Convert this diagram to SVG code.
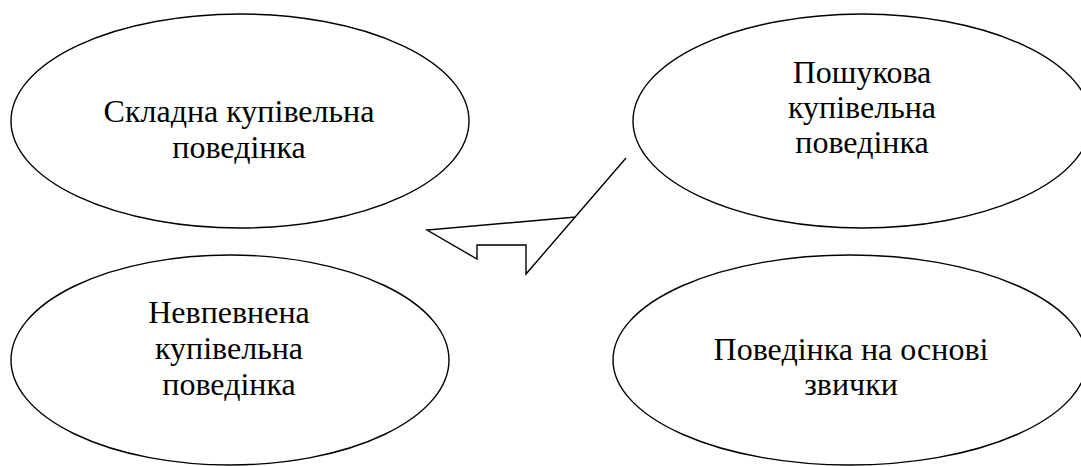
<svg xmlns="http://www.w3.org/2000/svg" width="1081" height="466" viewBox="0 0 1081 466">
<style>
.n{fill:#fff;stroke:#000;stroke-width:1.4}
.t{font-family:'Liberation Serif','Times New Roman',serif;font-size:32px;fill:#000;text-anchor:middle}
.c{fill:none;stroke:#000;stroke-width:1.4;stroke-linejoin:miter}
</style>
<rect width="1081" height="466" fill="#fff"/>
<g id="node1">
<ellipse class="n" cx="240" cy="121" rx="229" ry="107"/>
<text class="t" x="239" y="122">Складна купівельна</text>
<text class="t" x="239" y="158">поведінка</text>
</g>
<g id="node2">
<ellipse class="n" cx="862" cy="121" rx="229" ry="107"/>
<text class="t" x="862" y="83">Пошукова</text>
<text class="t" x="862" y="118">купівельна</text>
<text class="t" x="862" y="153">поведінка</text>
</g>
<g id="node3">
<ellipse class="n" cx="230" cy="360" rx="219" ry="105"/>
<text class="t" x="229" y="323">Невпевнена</text>
<text class="t" x="229" y="359">купівельна</text>
<text class="t" x="229" y="395">поведінка</text>
</g>
<g id="node4">
<ellipse class="n" cx="850" cy="360" rx="237" ry="105"/>
<text class="t" x="851" y="360">Поведінка на основі</text>
<text class="t" x="851" y="395">звички</text>
</g>
<g id="connectors">
<polyline class="c" points="626,158 526,274 526,245 477,245 477,259 427,230 576,217"/>
</g>
</svg>
